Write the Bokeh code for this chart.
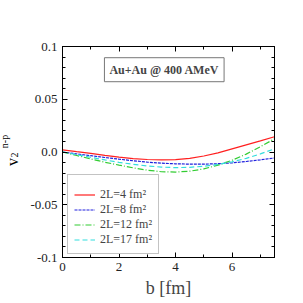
import math
from bokeh.plotting import figure
from bokeh.layouts import row
from bokeh.models import (Range1d, LinearAxis, Label, Legend, LegendItem,
                          FixedTicker)
from bokeh.core.properties import value
from bokeh.embed import file_html
from bokeh.resources import INLINE

# ---- data ----
b = [0, 0.5, 1, 1.5, 2, 2.5, 3, 3.5, 4, 4.5, 5, 5.5, 6, 6.5, 7, 7.5]
v2_L4 = [0.002, 0.0003, -0.0013, -0.0032, -0.0048, -0.0062, -0.0071, -0.0075,
         -0.0073, -0.0061, -0.0038, -0.0008, 0.0030, 0.0068, 0.0105, 0.0145]
v2_L8 = [0.0, -0.0018, -0.0035, -0.0052, -0.0068, -0.0083, -0.0096, -0.0106,
         -0.0112, -0.0115, -0.0115, -0.0111, -0.0103, -0.0090, -0.0074, -0.0057]
v2_L12 = [0.0, -0.0033, -0.0066, -0.0097, -0.0124, -0.0150, -0.0172, -0.0187,
          -0.0190, -0.0182, -0.0160, -0.0125, -0.0078, -0.0020, 0.0050, 0.0125]
v2_L17 = [0.0, -0.0025, -0.0050, -0.0075, -0.0098, -0.0117, -0.0132, -0.0143,
          -0.0148, -0.0145, -0.0135, -0.0118, -0.0093, -0.0060, -0.0018, 0.0030]
series_names = ["2L=4 fm\u00b2", "2L=8 fm\u00b2", "2L=12 fm\u00b2", "2L=17 fm\u00b2"]
series_vals = [v2_L4, v2_L8, v2_L12, v2_L17]
series_colors = ["#ff2020", "#2020dd", "#33cc33", "#33dddd"]
series_dash = ["solid", "3 1", "6 2 1 2", "5 3"]

x_ticks = [0, 2, 4, 6]
y_ticks = [-0.1, -0.05, 0.0, 0.05, 0.1]
y_tick_labels = {-0.1: "-0.1", -0.05: "-0.05", 0.0: "0.0", 0.05: "0.05", 0.1: "0.1"}
title_text = "Au+Au @ 400 AMeV"
x_label = "b [fm]"
y_label_parts = ["v", "2", "n-p"]

SERIF = "Liberation Serif"
FRAME_W, FRAME_H = 212, 211
TOP = 46
TOTAL_H = 302
LAB_W = 24

p = figure(frame_width=FRAME_W, frame_height=FRAME_H,
           x_range=Range1d(0, 7.5), y_range=Range1d(-0.1, 0.1),
           output_backend="svg", toolbar_location=None,
           min_border_left=62 - LAB_W, min_border_top=TOP, min_border_right=14,
           min_border_bottom=TOTAL_H - TOP - FRAME_H, x_axis_location=None,
           y_axis_location=None)
p.xgrid.visible = False
p.ygrid.visible = False
p.outline_line_color = "black"
p.outline_line_width = 1
p.background_fill_color = "white"
p.border_fill_color = "white"


def style_axis(ax, show_labels):
    ax.major_tick_in = 5
    ax.major_tick_out = 0
    ax.minor_tick_in = 3
    ax.minor_tick_out = 0
    ax.axis_line_color = "black"
    ax.major_tick_line_color = "black"
    ax.minor_tick_line_color = "black"
    ax.major_label_text_font = SERIF
    ax.major_label_text_font_size = "13px"
    ax.major_label_text_color = "#222222"
    if not show_labels:
        ax.major_label_text_font_size = "0px"
        ax.major_label_text_color = None


xt = FixedTicker(ticks=x_ticks, minor_ticks=[0, 1, 2, 3, 4, 5, 6, 7])
yminor = [round(-0.1 + 0.01 * i, 2) for i in range(21)]
yt = FixedTicker(ticks=y_ticks, minor_ticks=yminor)

xb = LinearAxis(ticker=xt, axis_label=x_label, axis_label_text_font=SERIF,
                axis_label_text_font_size="18px", axis_label_text_font_style="normal",
                axis_label_standoff=4, major_label_standoff=5)
style_axis(xb, True)
p.add_layout(xb, "below")
xa = LinearAxis(ticker=xt)
style_axis(xa, False)
p.add_layout(xa, "above")

yl = LinearAxis(ticker=yt, major_label_overrides=y_tick_labels,
                major_label_standoff=5)
style_axis(yl, True)
p.add_layout(yl, "left")
yr = LinearAxis(ticker=yt)
style_axis(yr, False)
p.add_layout(yr, "right")

renderers = []
for name, vals, col, dash in zip(series_names, series_vals, series_colors, series_dash):
    r = p.line(b, vals, line_color=col, line_width=1.2, line_dash=dash)
    renderers.append(r)

legend = Legend(items=[LegendItem(label=n, renderers=[r]) for n, r in zip(series_names, renderers)],
                location=(5, 3), label_text_font=SERIF, label_text_font_size="12px",
                label_height=13, glyph_height=13, glyph_width=21, label_standoff=5,
                spacing=0, padding=6, margin=0, border_line_color="#888888",
                border_line_width=1, background_fill_color="white",
                background_fill_alpha=1.0, title=" ", title_text_font_size="5px",
                title_standoff=0)
p.add_layout(legend, "center")

title = Label(x=3.6, y=0.078, text=title_text, text_font=SERIF,
              text_font_size="12px", text_font_style="bold", text_align="center",
              text_baseline="middle", border_line_color="#777777",
              border_line_width=1, background_fill_color="white", padding=5)
p.add_layout(title)

# narrow panel holding the rotated y-axis label v_2^{n-p}.
# Its frame is aligned with the main frame by the row layout, so its
# y range is in pixels measured upward from the frame bottom.
q = figure(width=LAB_W, height=TOTAL_H, x_range=Range1d(0, LAB_W),
           y_range=Range1d(0, FRAME_H), output_backend="svg", toolbar_location=None,
           min_border=0, x_axis_location=None, y_axis_location=None)
q.xgrid.visible = False
q.ygrid.visible = False
q.outline_line_color = None
q.border_fill_color = "white"
q.background_fill_color = "white"
q.text(x=[12.0], y=[95.5], text=[y_label_parts[0]], angle=math.pi / 2,
       text_font=value(SERIF), text_font_size="16px", text_align="center",
       text_baseline="middle", text_color="black")
q.text(x=[14.0], y=[102.5], text=[y_label_parts[1]], angle=math.pi / 2,
       text_font=value(SERIF), text_font_size="10px", text_align="center",
       text_baseline="middle", text_color="black")
q.text(x=[4.0], y=[116.0], text=[y_label_parts[2]], angle=math.pi / 2,
       text_font=value(SERIF), text_font_size="10px", text_align="center",
       text_baseline="middle", text_color="black")

layout = row(q, p, spacing=0)
open("out.html", "w").write(file_html(layout, INLINE))
